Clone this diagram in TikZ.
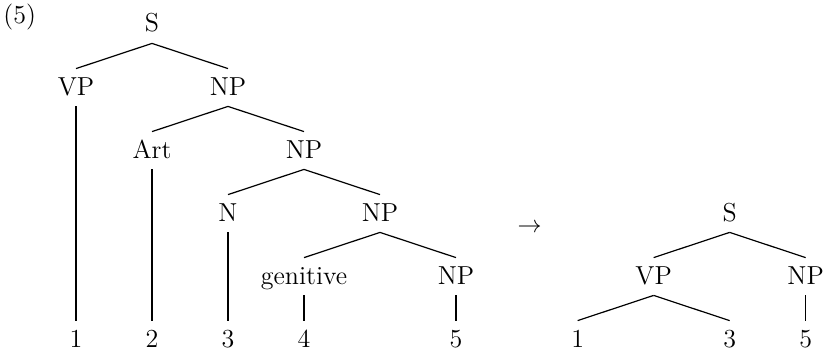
\documentclass[tikz,border=0pt]{standalone}

\begin{document}
\begin{tikzpicture}[x=38pt,y=-31.5pt,
    cat/.style={anchor=base,inner xsep=1pt,inner ysep=3.5pt,
      text height=9.5pt,text depth=2pt,font=\fontsize{13}{15}\selectfont},
    branch/.style={line width=0.6pt}]
        \useasboundingbox (0,-0.508) rectangle (10.868,5.079);
        \node[cat] (ex) at (0.26,-0.14) {(5)};
        % tree before the rule
        \node[cat] (ls) at (2,0) {S};
        \node[cat] (lvp) at (1,1) {VP};
        \node[cat] (lnp) at (3,1) {NP};
        \node[cat] (lart) at (2,2) {Art};
        \node[cat] (lnpb) at (4,2) {NP};
        \node[cat] (ln) at (3,3) {N};
        \node[cat] (lnpc) at (5,3) {NP};
        \node[cat] (lgen) at (4,4) {genitive};
        \node[cat] (lnpd) at (6,4) {NP};
        \node[cat] (l1) at (1,5) {1};
        \node[cat] (l2) at (2,5) {2};
        \node[cat] (l3) at (3,5) {3};
        \node[cat] (l4) at (4,5) {4};
        \node[cat] (l5) at (6,5) {5};
        \draw[branch] (ls.south) -- (lvp.north);
        \draw[branch] (ls.south) -- (lnp.north);
        \draw[branch] (lnp.south) -- (lart.north);
        \draw[branch] (lnp.south) -- (lnpb.north);
        \draw[branch] (lnpb.south) -- (ln.north);
        \draw[branch] (lnpb.south) -- (lnpc.north);
        \draw[branch] (lnpc.south) -- (lgen.north);
        \draw[branch] (lnpc.south) -- (lnpd.north);
        \draw[branch] (lvp.south) -- (l1.north);
        \draw[branch] (lart.south) -- (l2.north);
        \draw[branch] (ln.south) -- (l3.north);
        \draw[branch] (lgen.south) -- (l4.north);
        \draw[branch] (lnpd.south) -- (l5.north);
        \node[cat] (arr) at (6.97,3.19) {$\rightarrow$};
        % tree after the rule
        \node[cat] (rs) at (9.6,3) {S};
        \node[cat] (rvp) at (8.6,4) {VP};
        \node[cat] (rnp) at (10.6,4) {NP};
        \node[cat] (r1) at (7.6,5) {1};
        \node[cat] (r3) at (9.6,5) {3};
        \node[cat] (r5) at (10.6,5) {5};
        \draw[branch] (rs.south) -- (rvp.north);
        \draw[branch] (rs.south) -- (rnp.north);
        \draw[branch] (rvp.south) -- (r1.north);
        \draw[branch] (rvp.south) -- (r3.north);
        \draw[branch] (rnp.south) -- (r5.north);
      \end{tikzpicture}
\end{document}
